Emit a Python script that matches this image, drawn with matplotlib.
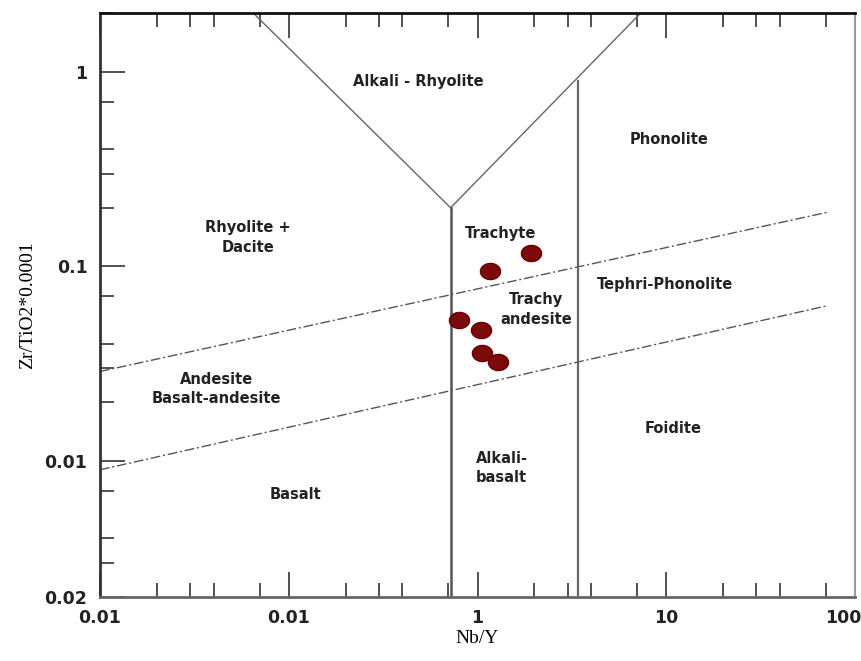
"""Winchester & Floyd style Zr/TiO2 vs Nb/Y discrimination diagram."""
import numpy as np
import matplotlib
matplotlib.use("Agg")
import matplotlib.pyplot as plt
import matplotlib.transforms as mtransforms
from matplotlib.path import Path
from matplotlib.ticker import FixedLocator, LogLocator, NullFormatter

# sample data (Nb/Y, Zr/TiO2*0.0001)
nb_y = [1.91, 1.17, 0.80, 1.04, 1.05, 1.29]
zr_ti = [0.1165, 0.0943, 0.053, 0.0472, 0.036, 0.0324]

# field boundaries
upper_dash_x = [0.01, 72]
upper_dash_y = [0.0288, 0.19]
lower_dash_x = [0.01, 70]
lower_dash_y = [0.009, 0.0625]
left_diag_x = [0.72, 0.065]
left_diag_y = [0.2, 2.0]
right_diag_x = [0.72, 7.3]
right_diag_y = [0.2, 2.0]
vert1_x = [0.72, 0.72]
vert1_y = [0.002, 0.2]
vert2_x = [3.4, 3.4]
vert2_y = [0.002, 0.9]

# field names: (text, x, y, alignment)
fields = [
    ("Alkali - Rhyolite", 0.487, 0.89, "center"),
    ("Phonolite", 10.3, 0.45, "center"),
    ("Rhyolite +\nDacite", 0.061, 0.141, "center"),
    ("Trachyte", 1.32, 0.148, "center"),
    ("Trachy\nandesite", 2.05, 0.060, "center"),
    ("Tephri-Phonolite", 9.8, 0.081, "center"),
    ("Andesite\nBasalt-andesite", 0.0416, 0.0234, "center"),
    ("Basalt", 0.109, 0.0067, "center"),
    ("Alkali-\nbasalt", 0.976, 0.0092, "left"),
    ("Foidite", 10.9, 0.0146, "center"),
]

# tick labels as printed on the original figure
xticks = [0.01, 0.1, 1, 10, 100]
xtick_labels = ["0.01", "0.01", "1", "10", "100"]
yticks = [0.002, 0.01, 0.1, 1]
ytick_labels = ["0.02", "0.01", "0.1", "1"]

fig = plt.figure(figsize=(8.62, 6.61), dpi=100)
ax = fig.add_axes([0.116, 0.097, 0.876, 0.883])
ax.set_xscale("log")
ax.set_yscale("log")
ax.set_xlim(0.01, 100)
ax.set_ylim(0.002, 2.0)

dash = (0, (7, 2, 1.5, 2))
ax.plot(upper_dash_x, upper_dash_y, color="#555555", lw=1.0, linestyle=dash)
ax.plot(lower_dash_x, lower_dash_y, color="#555555", lw=1.0, linestyle=dash)
ax.plot(left_diag_x, left_diag_y, color="#666666", lw=1.0)
ax.plot(right_diag_x, right_diag_y, color="#666666", lw=1.0)
ax.plot(vert1_x, vert1_y, color="#555555", lw=1.8)
ax.plot(vert2_x, vert2_y, color="#666666", lw=1.6)

# slightly flattened dots like the scanned figure
t = np.linspace(0, 2 * np.pi, 48)
ellipse = Path(np.column_stack([np.cos(t), 0.8 * np.sin(t)]))
ax.plot(nb_y, zr_ti, linestyle="none", marker=ellipse, ms=14.5,
        color="#7d0a0a", markeredgecolor="#6a0000", zorder=5)

for text, x, y, ha in fields:
    ax.text(x, y, text, ha=ha, va="center", multialignment=ha,
            fontsize=10.5, fontweight="bold", color="#222222", linespacing=1.4)

ax.xaxis.set_major_locator(FixedLocator(xticks))
ax.set_xticklabels(xtick_labels)
ax.yaxis.set_major_locator(FixedLocator(yticks))
ax.set_yticklabels(ytick_labels)
ax.xaxis.set_minor_locator(LogLocator(base=10, subs=(2, 3, 4, 7)))
ax.yaxis.set_minor_locator(LogLocator(base=10, subs=(2, 3, 4, 7)))
ax.xaxis.set_minor_formatter(NullFormatter())
ax.yaxis.set_minor_formatter(NullFormatter())

ax.tick_params(which="both", direction="in", top=True, right=False,
               color="#333333", labelsize=12.5, width=1.2)
ax.tick_params(which="major", length=18, pad=9)
ax.tick_params(which="minor", length=10)
for lab in ax.get_xticklabels() + ax.get_yticklabels():
    lab.set_fontweight("bold")
    lab.set_color("#222222")

# the last x label sits inside the figure edge, as in the scan
last = ax.get_xticklabels()[-1]
last.set_transform(last.get_transform() + mtransforms.ScaledTranslation(
    -0.12, 0, fig.dpi_scale_trans))

ax.spines["top"].set_color("#111111")
ax.spines["top"].set_linewidth(2.0)
ax.spines["left"].set_color("#333333")
ax.spines["left"].set_linewidth(2.0)
ax.spines["bottom"].set_color("#666666")
ax.spines["bottom"].set_linewidth(2.0)
ax.spines["right"].set_color("#999999")
ax.spines["right"].set_linewidth(1.5)

ax.set_xlabel("Nb/Y", family="Liberation Serif", fontsize=14, labelpad=2)
ax.set_ylabel("Zr/TiO2*0.0001", family="Liberation Serif", fontsize=14,
              labelpad=6)

fig.savefig("out.png", dpi=100, facecolor="white")
plt.close(fig)
